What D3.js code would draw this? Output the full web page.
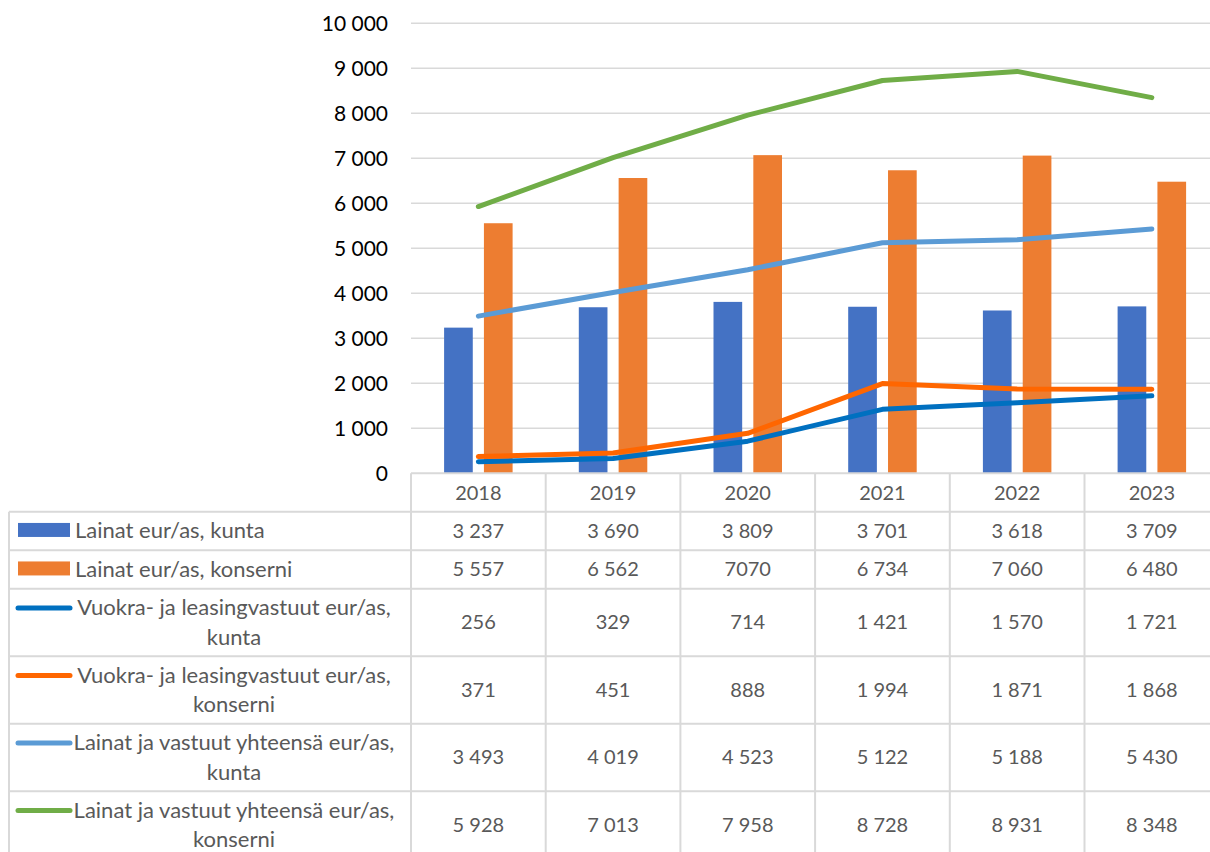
<!DOCTYPE html>
<html>
<head>
<meta charset="utf-8">
<script src="https://cdn.jsdelivr.net/npm/d3@7"></script>
<style>
  body { margin: 0; background: #fff; }
  svg { display: block; font-family: Lato, "Open Sans", sans-serif; }
</style>
</head>
<body>
<div id="chart"></div>
<script>
// data
var years = ["2018", "2019", "2020", "2021", "2022", "2023"];
var lainatKunta = [3237, 3690, 3809, 3701, 3618, 3709];
var lainatKonserni = [5557, 6562, 7070, 6734, 7060, 6480];
var vuokraKunta = [256, 329, 714, 1421, 1570, 1721];
var vuokraKonserni = [371, 451, 888, 1994, 1871, 1868];
var yhteensaKunta = [3493, 4019, 4523, 5122, 5188, 5430];
var yhteensaKonserni = [5928, 7013, 7958, 8728, 8931, 8348];
var yTicks = [0, 1000, 2000, 3000, 4000, 5000, 6000, 7000, 8000, 9000, 10000];

var series = [
  {name: ["Lainat eur/as, kunta"], values: lainatKunta, type: "bar", color: "#4472C4"},
  {name: ["Lainat eur/as, konserni"], values: lainatKonserni, type: "bar", color: "#ED7D31", plain: [2]},
  {name: ["Vuokra- ja leasingvastuut eur/as,", "kunta"], values: vuokraKunta, type: "line", color: "#0070C0"},
  {name: ["Vuokra- ja leasingvastuut eur/as,", "konserni"], values: vuokraKonserni, type: "line", color: "#FF6600"},
  {name: ["Lainat ja vastuut yhteensä eur/as,", "kunta"], values: yhteensaKunta, type: "line", color: "#5B9BD5"},
  {name: ["Lainat ja vastuut yhteensä eur/as,", "konserni"], values: yhteensaKonserni, type: "line", color: "#70AD47"}
];

var W = 1210, H = 852;
var left = 411, colW = 134.7;
var plotTop = 23.3, plotBottom = 473.3;
var grid = "#d9d9d9";

var fmt = function(v) { return d3.format(",")(v).replace(/,/g, " "); };

var svg = d3.select("#chart").append("svg").attr("width", W).attr("height", H);

var x = d3.scaleBand().domain(years).range([left, left + colW * years.length]);
var y = d3.scaleLinear().domain([0, 10000]).range([plotBottom, plotTop]);
var inner = d3.scaleBand().domain([0, 1]).range([0, 68.5]).paddingInner(0.28);

// gridlines
svg.append("g").selectAll("line").data(yTicks.slice(1)).enter().append("line")
  .attr("x1", left).attr("x2", W + 20)
  .attr("y1", function(d) { return y(d); }).attr("y2", function(d) { return y(d); })
  .attr("stroke", grid).attr("stroke-width", 1.5);

// y axis labels
var yAxis = d3.axisLeft(y).tickValues(yTicks).tickFormat(fmt).tickSize(0).tickPadding(23);
var ya = svg.append("g").attr("transform", "translate(" + left + ",0)").call(yAxis);
ya.select(".domain").remove();
ya.selectAll("text").attr("font-size", 21).attr("fill", "#000").attr("font-family", "Lato");

// bars
var bars = series.filter(function(s) { return s.type == "bar"; });
bars.forEach(function(s, bi) {
  svg.append("g").selectAll("rect").data(s.values).enter().append("rect")
    .attr("x", function(d, i) { return x(years[i]) + x.bandwidth() / 2 - 34.25 + inner(bi); })
    .attr("width", inner.bandwidth())
    .attr("y", function(d) { return y(d); })
    .attr("height", function(d) { return plotBottom - y(d); })
    .attr("fill", s.color);
});

// lines
var line = d3.line()
  .x(function(d, i) { return x(years[i]) + x.bandwidth() / 2; })
  .y(function(d) { return y(d); });
series.filter(function(s) { return s.type == "line"; }).forEach(function(s) {
  svg.append("path").datum(s.values)
    .attr("d", line)
    .attr("fill", "none").attr("stroke", s.color)
    .attr("stroke-width", 5).attr("stroke-linecap", "round").attr("stroke-linejoin", "round");
});

// data table
var rowH = [38.5, 38.5, 67.5, 67.5, 67.5, 67.5];
var headTop = plotBottom, headBot = 511.7;
var rowTops = [headBot];
rowH.forEach(function(h, i) { rowTops.push(rowTops[i] + h); });

var tbl = svg.append("g");
// horizontal lines
tbl.append("line").attr("x1", left).attr("x2", W + 20).attr("y1", headTop).attr("y2", headTop)
  .attr("stroke", grid).attr("stroke-width", 2);
rowTops.forEach(function(t) {
  tbl.append("line").attr("x1", 9).attr("x2", W + 20).attr("y1", t).attr("y2", t)
    .attr("stroke", grid).attr("stroke-width", 2);
});
// vertical lines
tbl.append("line").attr("x1", 9).attr("x2", 9).attr("y1", headBot).attr("y2", H + 5)
  .attr("stroke", grid).attr("stroke-width", 2);
years.forEach(function(yr) {
  tbl.append("line").attr("x1", x(yr)).attr("x2", x(yr)).attr("y1", headTop).attr("y2", H + 5)
    .attr("stroke", grid).attr("stroke-width", 2);
});

// header
tbl.selectAll("text.yr").data(years).enter().append("text")
  .attr("x", function(d) { return x(d) + x.bandwidth() / 2; })
  .attr("y", (headTop + headBot) / 2 + 7)
  .attr("text-anchor", "middle").attr("font-size", 20).attr("fill", "#595959")
  .text(function(d) { return d; });

series.forEach(function(s, r) {
  var t = rowTops[r], h = rowH[r], mid = t + h / 2;
  var two = s.name.length > 1;
  var ky = two ? mid - 14.5 : mid - 1;
  if (s.type == "bar") {
    tbl.append("rect").attr("x", 18).attr("y", ky - 7).attr("width", 52).attr("height", 14).attr("fill", s.color);
  } else {
    tbl.append("line").attr("x1", 18).attr("x2", 70).attr("y1", ky).attr("y2", ky)
      .attr("stroke", s.color).attr("stroke-width", 5).attr("stroke-linecap", "round");
  }
  var lab = tbl.append("text").attr("font-size", 22).attr("fill", "#595959");
  if (!two) {
    lab.append("tspan").attr("x", 75).attr("y", mid + 7.5).text(s.name[0]);
  } else {
    lab.append("tspan").attr("x", 234).attr("y", mid - 7).attr("text-anchor", "middle").text(s.name[0]);
    lab.append("tspan").attr("x", 234).attr("y", mid + 22.5).attr("text-anchor", "middle").text(s.name[1]);
  }
  tbl.append("g").selectAll("text").data(s.values).enter().append("text")
    .attr("x", function(d, i) { return x(years[i]) + x.bandwidth() / 2; })
    .attr("y", mid + 7)
    .attr("text-anchor", "middle").attr("font-size", 20).attr("fill", "#595959")
    .text(function(d, i) { return s.plain && s.plain.indexOf(i) >= 0 ? String(d) : fmt(d); });
});
</script>
</body>
</html>
